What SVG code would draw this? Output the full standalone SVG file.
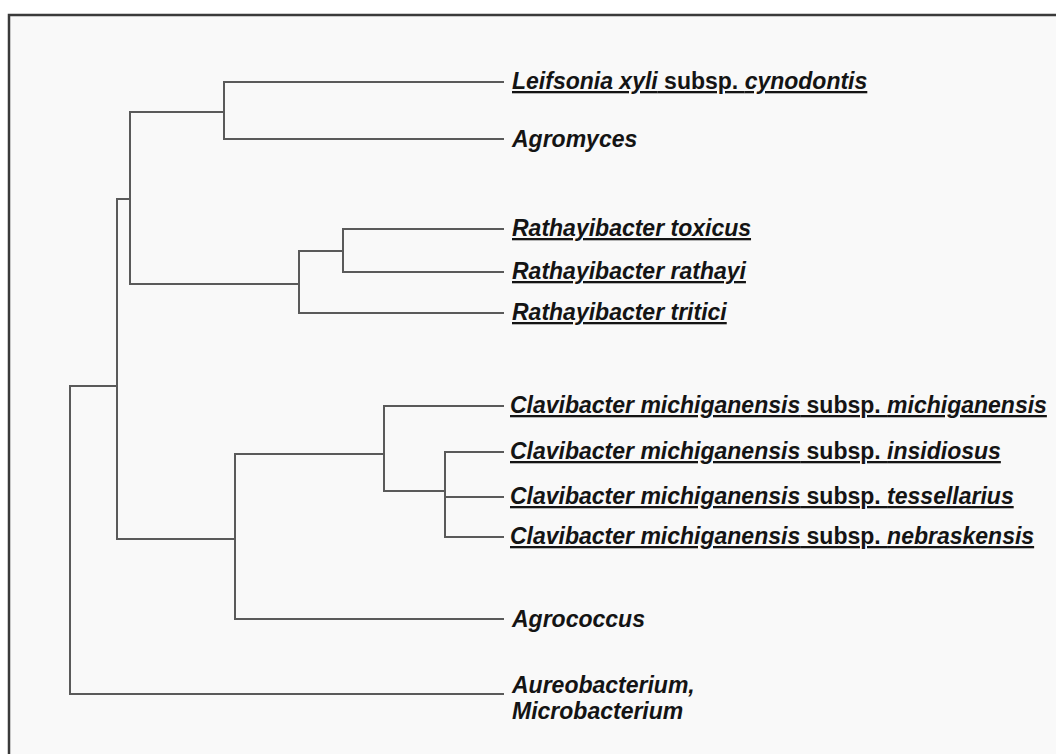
<svg xmlns="http://www.w3.org/2000/svg" width="1056" height="754" viewBox="0 0 1056 754">
<style>
.frame{fill:#f9f9f9;stroke:#3a3a3a;stroke-width:2.5}
.br{fill:none;stroke:#5a5a5a;stroke-width:2;stroke-linecap:square}
.lbl{font-family:"Liberation Sans",Arial,sans-serif;font-size:23px;font-weight:bold;fill:#141414}
.i{font-style:italic}
.u{text-decoration:underline}
</style>
<rect width="1056" height="754" fill="#ffffff"/>
<rect class="frame" x="9" y="15" width="1060" height="760"/>
<g id="connectors">
<path class="br" d="M70,386 V694 H503"/>
<path class="br" d="M70,386 H117 V539"/>
<path class="br" d="M117,199 V539"/>
<path class="br" d="M117,199 H130"/>
<path class="br" d="M130,112 V284 H299"/>
<path class="br" d="M130,112 H224"/>
<path class="br" d="M224,82 V139"/>
<path class="br" d="M224,82 H503"/>
<path class="br" d="M224,139 H503"/>
<path class="br" d="M299,251 V313 H503"/>
<path class="br" d="M299,251 H343"/>
<path class="br" d="M343,229 V272 H503"/>
<path class="br" d="M343,229 H503"/>
<path class="br" d="M117,539 H235"/>
<path class="br" d="M235,454 V619 H503"/>
<path class="br" d="M235,454 H384"/>
<path class="br" d="M384,406 V491 H445"/>
<path class="br" d="M384,406 H503"/>
<path class="br" d="M445,452 V537 H503"/>
<path class="br" d="M445,452 H503"/>
<path class="br" d="M445,497 H503"/>
</g>
<g id="leifsonia"><text class="lbl u" x="512" y="89"><tspan class="i">Leifsonia xyli</tspan> subsp. <tspan class="i">cynodontis</tspan></text></g>
<g id="agromyces"><text class="lbl i" x="512" y="147">Agromyces</text></g>
<g id="r-toxicus"><text class="lbl i u" x="512" y="236">Rathayibacter toxicus</text></g>
<g id="r-rathayi"><text class="lbl i u" x="512" y="279">Rathayibacter rathayi</text></g>
<g id="r-tritici"><text class="lbl i u" x="512" y="320">Rathayibacter tritici</text></g>
<g id="cm-michiganensis"><text class="lbl u" x="510" y="413"><tspan class="i">Clavibacter michiganensis</tspan> subsp. <tspan class="i">michiganensis</tspan></text></g>
<g id="cm-insidiosus"><text class="lbl u" x="510" y="459"><tspan class="i">Clavibacter michiganensis</tspan> subsp. <tspan class="i">insidiosus</tspan></text></g>
<g id="cm-tessellarius"><text class="lbl u" x="510" y="504"><tspan class="i">Clavibacter michiganensis</tspan> subsp. <tspan class="i">tessellarius</tspan></text></g>
<g id="cm-nebraskensis"><text class="lbl u" x="510" y="544"><tspan class="i">Clavibacter michiganensis</tspan> subsp. <tspan class="i">nebraskensis</tspan></text></g>
<g id="agrococcus"><text class="lbl i" x="512" y="627">Agrococcus</text></g>
<g id="aureobacterium"><text class="lbl i" x="512" y="693">Aureobacterium,<tspan x="512" y="719">Microbacterium</tspan></text></g>
</svg>
